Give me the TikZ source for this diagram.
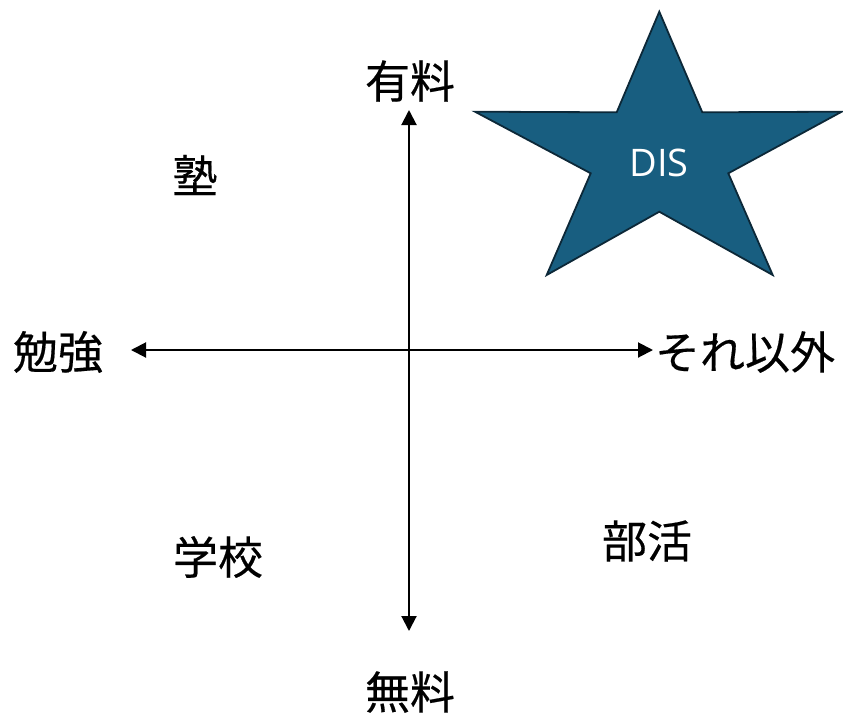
\documentclass[tikz,border=0pt]{standalone}
\usepackage{fontspec}
\newfontfamily\jpfont[FakeBold=0.35]{Noto Sans CJK JP}
\newfontfamily\dissans{Open Sans}
\usetikzlibrary{arrows.meta}
\definecolor{starfill}{RGB}{24,94,128}
\definecolor{starline}{RGB}{12,40,56}
\tikzset{
  lbl/.style={font=\jpfont\fontsize{45}{48}\selectfont, inner sep=0pt},
  axis/.style={line width=2pt, {Triangle[width=15pt,length=15pt]}-{Triangle[width=15pt,length=15pt]}},
  starshape/.style={fill=starfill, draw=starline, line width=1.8pt, line join=miter}
}
\begin{document}
\begin{tikzpicture}[x=1pt,y=-1pt]
\useasboundingbox (0,0) rectangle (843,716);
% star
\draw[starshape] (659.3,11.7) -- (702.3,112.3) -- (841.7,111.7) -- (728.3,173.3) -- (772.7,275)
  -- (659.3,211.7) -- (546.7,275) -- (590.7,173.3) -- (475,111.7) -- (616.7,112.3) -- cycle;
\node[text=white, font=\dissans\fontsize{38}{42}\selectfont, inner sep=0pt] (dis) at (659,163) {DIS};
% labels
\node[lbl] (paid) at (410,81) {有料};
\node[lbl] (free) at (410,692) {無料};
\node[lbl] (study) at (58,352) {勉強};
\node[lbl] (other) at (745,352) {それ以外};
\node[lbl] (juku) at (195,175) {塾};
\node[lbl] (school) at (218,557) {学校};
\node[lbl] (club) at (647,541) {部活};
% axes
\coordinate (vtop) at (409,110);
\coordinate (vbot) at (409,631);
\coordinate (hleft) at (131,350);
\coordinate (hright) at (653,350);
\draw[axis] (vtop) -- (vbot);
\draw[axis] (hleft) -- (hright);
\end{tikzpicture}
\end{document}
